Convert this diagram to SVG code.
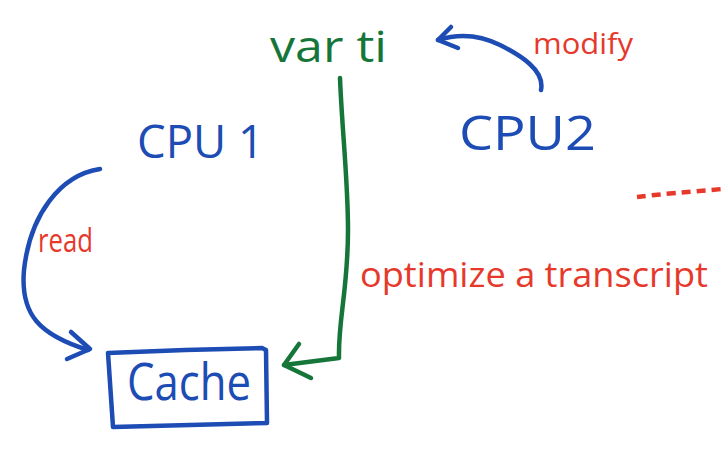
<svg xmlns="http://www.w3.org/2000/svg" width="722" height="464" viewBox="0 0 722 464">
<style>
.blue{fill:#1c4cb4;font-family:"Open Sans","Liberation Sans",sans-serif;}
.green{fill:#16763a;font-family:"Open Sans","Liberation Sans",sans-serif;}
.red{fill:#e6392b;font-family:"Open Sans","Liberation Sans",sans-serif;}
.bl{fill:none;stroke:#1c4cb4;stroke-width:4.5;stroke-linecap:round;stroke-linejoin:round;}
.gl{fill:none;stroke:#16763a;stroke-width:4.5;stroke-linecap:round;stroke-linejoin:round;}
.rl{fill:none;stroke:#e6392b;stroke-width:4.5;stroke-dasharray:9 6;}
</style>
<rect width="722" height="464" fill="#ffffff"/>
<g id="var-ti">
<text class="green" x="270" y="62" font-size="44" textLength="117" lengthAdjust="spacingAndGlyphs">var ti</text>
</g>
<g id="cpu1">
<text class="blue" x="137" y="158" font-size="45" textLength="127" lengthAdjust="spacingAndGlyphs">CPU 1</text>
</g>
<g id="cpu2">
<text class="blue" x="459" y="150" font-size="47" textLength="137" lengthAdjust="spacingAndGlyphs">CPU2</text>
</g>
<g id="cache">
<path class="bl" d="M108,353 L185,350 L262,348 L266,350 L267,423 L190,425 L113,427 Z"/>
<text class="blue" x="127" y="400" font-size="52" textLength="124" lengthAdjust="spacingAndGlyphs">Cache</text>
</g>
<g id="connectors">
<path class="bl" d="M100,169 C60,175 30,215 24,270 C20,315 40,335 88,350"/>
<path class="bl" d="M71,332 L90,349 L67,359"/>
<path class="bl" d="M541,90 C545,70 520,55 500,45 C480,35 460,33 438,40"/>
<path class="bl" d="M451,27 L438,40 L458,48"/>
<path class="gl" d="M340,78 C342,130 348,180 348,230 C348,290 338,320 339,358 L284,365"/>
<path class="gl" d="M299,344 L284,365 L311,378"/>
<path class="rl" d="M637,197 C660,194 690,192 722,189"/>
</g>
<g id="labels">
<text class="red" x="533" y="54" font-size="30" textLength="100" lengthAdjust="spacingAndGlyphs">modify</text>
<text class="red" x="38" y="252" font-size="32" textLength="55" lengthAdjust="spacingAndGlyphs">read</text>
<text class="red" x="360" y="287" font-size="34" textLength="348" lengthAdjust="spacingAndGlyphs">optimize a transcript</text>
</g>
</svg>
